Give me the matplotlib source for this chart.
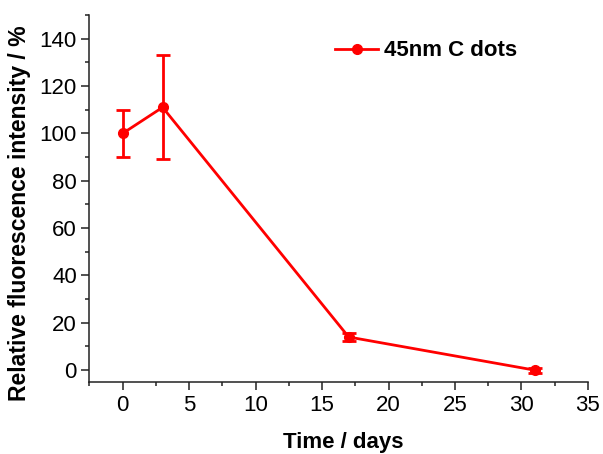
import matplotlib
matplotlib.use("Agg")
import matplotlib.pyplot as plt
from matplotlib.ticker import MultipleLocator

plt.rcParams['font.family'] = ['Liberation Sans', 'DejaVu Sans']

days = [0, 3, 17, 31]
intensity = [100, 111, 14, 0]
errors = [10, 22, 1.5, 1]
series_label = "45nm C dots"

red = '#ff0000'
fig = plt.figure(figsize=(6.03, 4.54), dpi=100)
ax = fig.add_axes([0.1484, 0.1586, 0.8266, 0.8084])
ax.errorbar(days, intensity, yerr=errors, fmt='none', ecolor=red,
            capsize=5, capthick=2, elinewidth=2)
ax.plot(days, intensity, color=red, lw=2, marker='o', ms=7, label=series_label)
ax.set_xlim(-2.5, 35)
ax.set_ylim(-5, 150)
ax.xaxis.set_major_locator(MultipleLocator(5))
ax.xaxis.set_minor_locator(MultipleLocator(2.5))
ax.yaxis.set_major_locator(MultipleLocator(20))
ax.yaxis.set_minor_locator(MultipleLocator(10))
for s in ['top', 'right']:
    ax.spines[s].set_visible(False)
for s in ['left', 'bottom']:
    ax.spines[s].set_linewidth(1.1)
    ax.spines[s].set_color('#222222')
ax.tick_params(which='major', direction='out', length=5.5, width=1.1, labelsize=16,
               color='#222222', pad=3.5)
ax.tick_params(axis='x', which='major', pad=4)
ax.tick_params(which='minor', direction='out', length=3, width=1.1, color='#222222')
ax.set_xlabel('Time / days', fontsize=16, fontweight='bold')
ax.set_ylabel('Relative fluorescence intensity / %', fontsize=16.6, fontweight='bold')
ax.xaxis.set_label_coords(0.51, -0.135)
ax.yaxis.set_label_coords(-0.118, 0.46)
leg = ax.legend(loc='center left', bbox_to_anchor=(335 / 603, 1 - 51 / 454),
                bbox_transform=fig.transFigure, frameon=False, borderpad=0,
                borderaxespad=0, prop={'size': 16, 'weight': 'bold'},
                handlelength=1.95, handletextpad=0.25)
fig.savefig('out.png', dpi=100)
